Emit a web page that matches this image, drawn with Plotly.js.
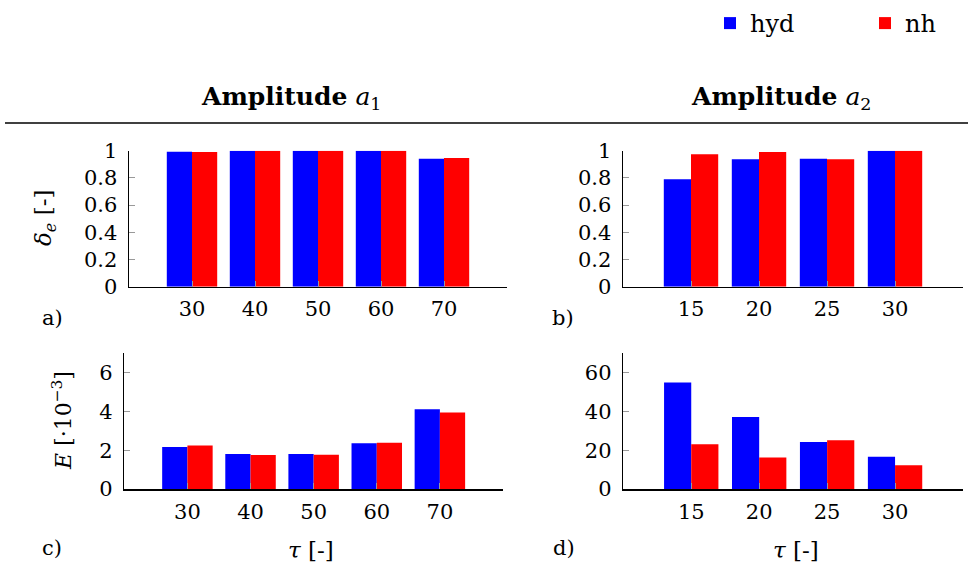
<!DOCTYPE html>
<html>
<head>
<meta charset="utf-8">
<script src="https://cdn.plot.ly/plotly-3.0.1.min.js"></script>
<style>html,body{margin:0;padding:0;background:#fff;}#chart{width:968px;height:569px;}</style>
</head>
<body>
<div id="chart"></div>
<script>
// ---- data ----
const tauA1 = ['30', '40', '50', '60', '70'];
const tauA2 = ['15', '20', '25', '30'];

const deltaHydA1 = [0.993, 1.0, 1.0, 1.0, 0.941];
const deltaNhA1  = [0.99, 1.0, 1.0, 1.0, 0.946];
const deltaHydA2 = [0.79, 0.937, 0.94, 1.0];
const deltaNhA2  = [0.973, 0.99, 0.937, 1.0];

const eHydA1 = [2.17, 1.80, 1.80, 2.36, 4.11];
const eNhA1  = [2.24, 1.75, 1.77, 2.38, 3.94];
const eHydA2 = [55.0, 37.2, 24.3, 16.6];
const eNhA2  = [23.1, 16.3, 25.2, 12.3];

const seriesNames = ['hyd', 'nh'];
const seriesColors = ['#0000ff', '#ff0000'];

// ---- chart ----
const FONT = 'DejaVu Serif';
const W = 968, H = 569;
const px = x => x / W;
const py = y => 1 - y / H;

function bars(x, yh, yn, xa, ya, legend) {
  return [
    {type: 'bar', x: x, y: yh, name: seriesNames[0], xaxis: xa, yaxis: ya,
     marker: {color: seriesColors[0], line: {width: 0}}, showlegend: legend, hoverinfo: 'x+y+name'},
    {type: 'bar', x: x, y: yn, name: seriesNames[1], xaxis: xa, yaxis: ya,
     marker: {color: seriesColors[1], line: {width: 0}}, showlegend: legend, hoverinfo: 'x+y+name'}
  ];
}

const traces = [].concat(
  bars(tauA1, deltaHydA1, deltaNhA1, 'x', 'y', true),
  bars(tauA2, deltaHydA2, deltaNhA2, 'x2', 'y2', false),
  bars(tauA1, eHydA1, eNhA1, 'x3', 'y3', false),
  bars(tauA2, eHydA2, eNhA2, 'x4', 'y4', false)
);

const tickFont = {family: FONT, size: 21, color: '#000'};

function xax(domain, cats, anchor) {
  return {
    domain: domain, anchor: anchor, type: 'category',
    categoryorder: 'array', categoryarray: cats,
    range: [-1, cats.length],
    showline: true, linecolor: '#000', linewidth: 1.5,
    ticks: 'inside', ticklen: 6, tickcolor: '#999', tickwidth: 1,
    tickfont: tickFont, showgrid: false, zeroline: false,
    ticklabelstandoff: 3, fixedrange: true, automargin: false
  };
}
function yax(domain, range, dtick, anchor) {
  return {
    domain: domain, anchor: anchor, range: range, dtick: dtick, tick0: 0,
    showline: true, linecolor: '#000', linewidth: 1.5,
    ticks: 'inside', ticklen: 6, tickcolor: '#999', tickwidth: 1,
    tickfont: tickFont, showgrid: false, zeroline: false,
    ticklabelstandoff: 6, fixedrange: true, automargin: false
  };
}

const yTop = [py(286.7), py(150.7)];
const yBot = [py(489), py(353.3)];

const ann = (text, x, y, opts) => Object.assign({
  text: text, x: px(x), y: py(y), xref: 'paper', yref: 'paper',
  showarrow: false, xanchor: 'center', yanchor: 'middle',
  font: {family: FONT, size: 21, color: '#000'}
}, opts || {});

const layout = {
  width: W, height: H,
  margin: {l: 0, r: 0, t: 0, b: 0, autoexpand: false},
  paper_bgcolor: '#fff', plot_bgcolor: 'rgba(0,0,0,0)',
  font: {family: FONT, color: '#000'},
  barmode: 'group', bargap: 0.2, bargroupgap: 0,
  showlegend: true,
  legend: {
    orientation: 'h', x: px(710), y: py(1), xanchor: 'left', yanchor: 'top',
    font: {family: FONT, size: 24, color: '#000'},
    entrywidth: 110, entrywidthmode: 'pixels',
    bgcolor: 'rgba(0,0,0,0)', itemclick: false, itemdoubleclick: false
  },
  xaxis:  xax([px(129), px(507)], tauA1, 'y'),
  yaxis:  yax(yTop, [0, 1], 0.2, 'x'),
  xaxis2: xax([px(623), px(963)], tauA2, 'y2'),
  yaxis2: yax(yTop, [0, 1], 0.2, 'x2'),
  xaxis3: xax([px(124.3), px(503)], tauA1, 'y3'),
  yaxis3: yax(yBot, [0, 7], 2, 'x3'),
  xaxis4: xax([px(623.3), px(963)], tauA2, 'y4'),
  yaxis4: yax(yBot, [0, 70], 20, 'x4'),
  shapes: [
    {type: 'line', xref: 'paper', yref: 'paper', x0: px(5), x1: 1, y0: py(123), y1: py(123),
     line: {color: '#000', width: 1.5}}
  ],
  annotations: [
    ann('<b>Amplitude</b> <i>a</i><sub>1</sub>', 291, 98, {font: {family: FONT, size: 25, color: '#000'}}),
    ann('<b>Amplitude</b> <i>a</i><sub>2</sub>', 781, 98, {font: {family: FONT, size: 25, color: '#000'}}),
    ann('<i>δ</i><sub><i>e</i></sub> [-]', 45, 218, {textangle: -90, font: {family: FONT, size: 23, color: '#000'}}),
    ann('<i>E</i> [·10<sup>−3</sup>]', 62, 420, {textangle: -90, font: {family: FONT, size: 22, color: '#000'}}),
    ann('<i>τ</i> [-]', 311, 550, {font: {family: FONT, size: 23, color: '#000'}}),
    ann('<i>τ</i> [-]', 796, 550, {font: {family: FONT, size: 23, color: '#000'}}),
    ann('a)', 52, 318),
    ann('b)', 563, 318),
    ann('c)', 52, 548),
    ann('d)', 564, 548)
  ]
};

Plotly.newPlot('chart', traces, layout, {displayModeBar: false, staticPlot: true});
</script>
</body>
</html>
